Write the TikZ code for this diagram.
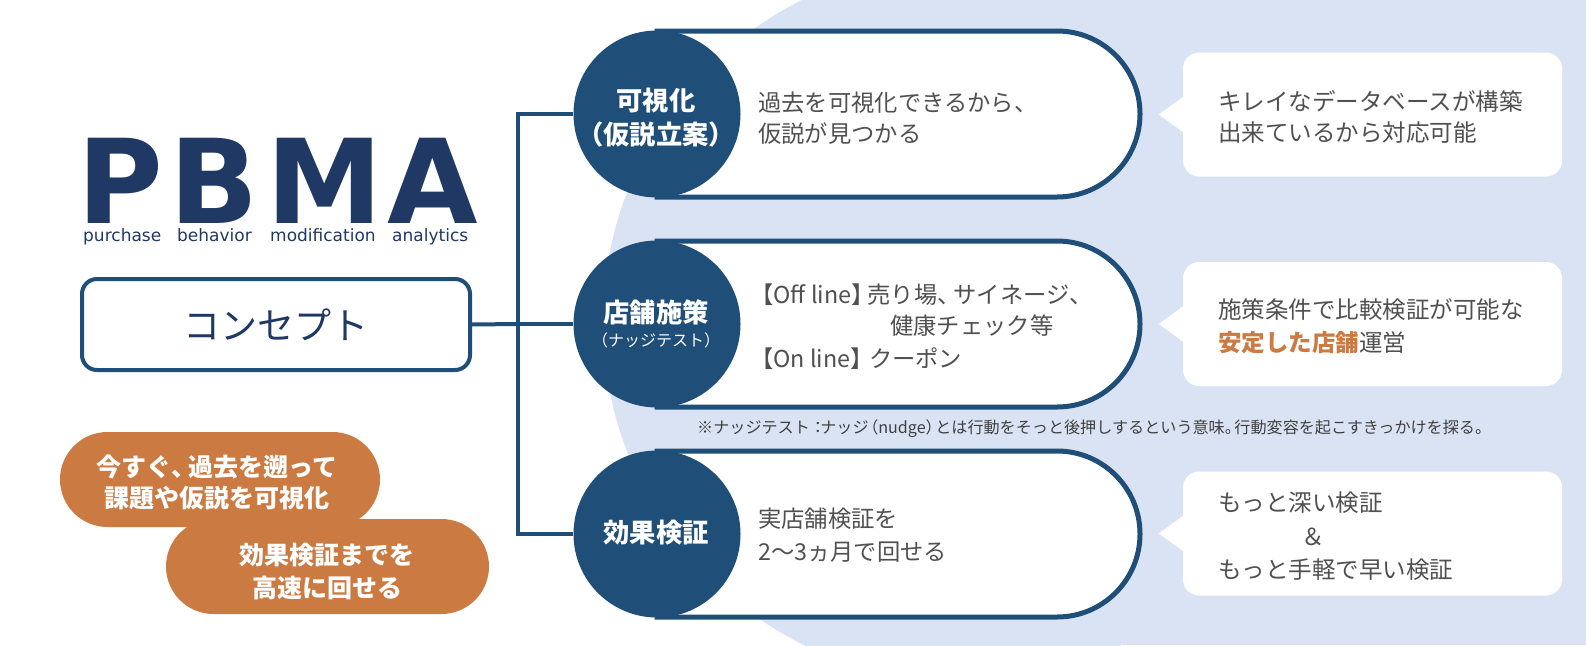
\documentclass[tikz,border=0pt]{standalone}
\usepackage{fontspec}
\setmainfont{Noto Sans CJK JP}
\newfontfamily\logofont{DejaVu Sans}
\usetikzlibrary{calc,shapes.misc}
\definecolor{navy}{HTML}{1F4E79}
\definecolor{logoblue}{HTML}{1F3864}
\definecolor{bgblue}{HTML}{DAE3F3}
\definecolor{orng}{HTML}{CB7A42}
\definecolor{txtgray}{HTML}{505050}
\definecolor{notegray}{HTML}{404040}
\newcommand{\fsz}[1]{\fontsize{#1}{#1}\selectfont}
\begin{document}
\begin{tikzpicture}[x=1pt,y=-1pt,
  every node/.style={inner sep=0pt},
  capsule/.style={draw=navy, line width=5, fill=white},
  dot/.style={circle, fill=navy, minimum size=167},
  conn/.style={draw=navy, line width=4},
  ctxt/.style={anchor=base west, text=txtgray, font=\fsz{23.3}},
  clab/.style={anchor=base, text=white, font=\fsz{26.3}\bfseries},
  btxt/.style={anchor=base west, text=txtgray, font=\fsz{23.5}},
  bubble/.style={rounded corners=16, fill=white, minimum width=379, minimum height=124},
  pill/.style={rounded rectangle, fill=orng, minimum width=#1, minimum height=95},
  ptxt/.style={anchor=base, text=white, font=\fsz{25}\bfseries},
  logo/.style={anchor=base, text=logoblue, font=\logofont\bfseries\fsz{117}, text depth=0pt},
  sub/.style={anchor=base west, text=logoblue, font=\logofont\fsz{17}, text height=9pt}]
\useasboundingbox (0,0) rectangle (1586,645);
% background
\begin{scope}
\clip (0,0) rectangle (1586,645);
\fill[bgblue] (963,322) circle (360);
\fill[bgblue] (963,0) rectangle (1586,645);
\end{scope}
% logo
\node[logo] (lp) at (120,223) {P};
\node[logo] (lb) at (214,223) {B};
\node[logo] (lm) at (324.5,223) {M};
\node[logo] (la) at (433,223) {A};
\node[sub] (s1) at (83,241) {purchase};
\node[sub] (s2) at (177,241) {behavior};
\node[sub] (s3) at (270,241) {modification};
\node[sub] (s4) at (392,241) {analytics};
% concept
\node[draw=navy, line width=4, rounded corners=15, fill=white, minimum width=388, minimum height=91,
  text=logoblue, font=\fsz{37}] (concept) at (276,324.5) {コンセプト};
% pills
\node[pill=320] (p1) at (220,479.5) {};
\node[pill=323] (p2) at (327.5,566.5) {};
\node[ptxt] (p1a) at (217,476.3) {今すぐ、\kern-0.3em 過去を遡って};
\node[ptxt] (p1b) at (217,507.3) {課題や仮説を可視化};
\node[ptxt] (p2a) at (327,564.3) {効果検証までを};
\node[ptxt] (p2b) at (327,597.3) {高速に回せる};
% capsules
\draw[capsule] (657,31) -- (1057,31) arc[start angle=-90,end angle=90,radius=83] -- (657,197) -- cycle;
\draw[capsule] (657,241) -- (1057,241) arc[start angle=-90,end angle=90,radius=83] -- (657,407) -- cycle;
\draw[capsule] (657,451) -- (1057,451) arc[start angle=-90,end angle=90,radius=83] -- (657,617) -- cycle;
\node[dot] (c1) at (657,114) {};
\node[dot] (c2) at (657,324) {};
\node[dot] (c3) at (657,534) {};
% connectors
\coordinate (j) at (518,324);
\draw[conn] (concept.east) -- (j);
\draw[conn] (c1.west) -| (j) |- (c3.west);
\draw[conn] (j) -- (c2.west);
% circle labels
\node[clab] (l1a) at (656,110.7) {可視化};
\node[clab] (l1b) at (656,144.2) {（仮説立案）};
\node[clab] (l2a) at (656,322.2) {店舗施策};
\node[clab, font=\fsz{16}] (l2b) at (656,346.9) {（ナッジテスト）};
\node[clab] (l3a) at (656,542.7) {効果検証};
% capsule texts
\node[ctxt] (t1a) at (758,111.6) {過去を可視化できるから、};
\node[ctxt] (t1b) at (758,142.1) {仮説が見つかる};
\node[ctxt] (t2a) at (750,303.6) {【Off line】\kern-0.3em 売り場、\kern-0.3em サイネージ、};
\node[ctxt] (t2b) at (890,334.3) {健康チェック等};
\node[ctxt] (t2c) at (750,367.6) {【On line】\kern-0.2em クーポン};
\node[ctxt] (t3a) at (758,527.6) {実店舗検証を};
\node[ctxt] (t3b) at (758,560.6) {2～3ヵ月で回せる};
% note
\node[anchor=base west, text=notegray, font=\fsz{16.1}] (note) at (697,433)
  {※ナッジテスト：\kern-0.35em ナッジ\kern-0.4em （nudge）\kern-0.4em とは行動をそっと後押しするという意味。\kern-0.4em 行動変容を起こすきっかけを探る。};
% bubbles
\node[bubble] (b1) at (1372.5,114.5) {};
\node[bubble] (b2) at (1372.5,324) {};
\node[bubble] (b3) at (1372.5,533.5) {};
\foreach \b in {b1,b2,b3}{
  \fill[white] ($(\b.west)+(2,-19)$) -- ($(\b.west)+(-24,0)$) -- ($(\b.west)+(2,19)$) -- cycle;
}
\node[btxt] (u1a) at (1218,110.7) {キレイなデータベースが構築};
\node[btxt] (u1b) at (1218,141.7) {出来ているから対応可能};
\node[btxt] (u2a) at (1218,318.7) {施策条件で比較検証が可能な};
\node[btxt] (u2b) at (1218,351.7) {\textcolor{orng}{\bfseries 安定した店舗}運営};
\node[btxt] (u3a) at (1218,511.7) {もっと深い検証};
\node[btxt, anchor=base] (u3b) at (1313,545.7) {＆};
\node[btxt] (u3c) at (1218,578.7) {もっと手軽で早い検証};
\end{tikzpicture}
\end{document}
